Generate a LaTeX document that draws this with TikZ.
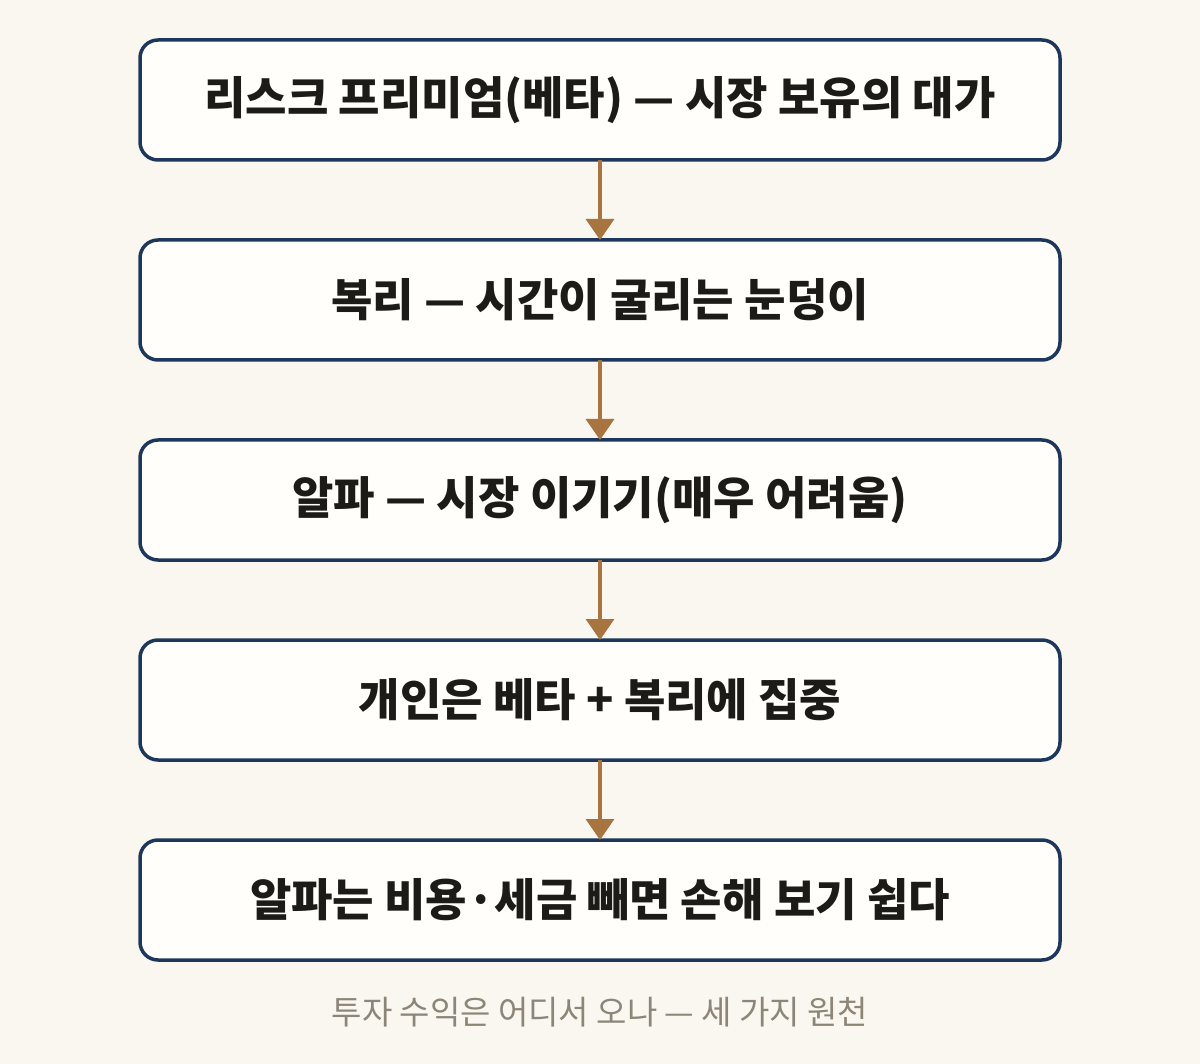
\documentclass[tikz,border=0pt]{standalone}
\usepackage{fontspec}
\setmainfont{Noto Sans CJK KR}
\usetikzlibrary{positioning,arrows.meta}
\definecolor{paper}{HTML}{F9F7F0}
\definecolor{boxfill}{HTML}{FFFEFA}
\definecolor{navy}{HTML}{1D375C}
\definecolor{ochre}{HTML}{A8743F}
\definecolor{ink}{HTML}{1C1B18}
\definecolor{note}{HTML}{8C8578}
\tikzset{
    source/.style={draw=navy, line width=3.5pt, fill=boxfill, rounded corners=18pt,
        minimum width=920pt, minimum height=120pt, inner sep=0pt, outer sep=0pt, text=ink,
        font=\fontsize{45}{54}\selectfont\bfseries},
    flow/.style={draw=ochre, line width=3.5pt, -{Triangle[width=28pt,length=21pt]}},
    caption/.style={text=note, font=\fontsize{33}{40}\selectfont}
}
\begin{document}
\begin{tikzpicture}[x=1pt, y=1pt]
    \fill[paper] (0,0) rectangle (1200,-1064);
    \useasboundingbox (0,0) rectangle (1200,-1064);

    \node[source] (beta) at (600,-100) {리스크 프리미엄(베타) — 시장 보유의 대가};
    \node[source, below=80pt of beta] (compound) {복리 — 시간이 굴리는 눈덩이};
    \node[source, below=80pt of compound] (alpha) {알파 — 시장 이기기(매우 어려움)};
    \node[source, below=80pt of alpha] (focus) {개인은 베타 + 복리에 집중};
    \node[source, below=80pt of focus] (cost) {알파는 비용·세금 빼면 손해 보기 쉽다};

    \node[caption] (title) at (600,-1012) {투자 수익은 어디서 오나 — 세 가지 원천};

    \draw[flow] (beta) -- (compound);
    \draw[flow] (compound) -- (alpha);
    \draw[flow] (alpha) -- (focus);
    \draw[flow] (focus) -- (cost);
\end{tikzpicture}
\end{document}
